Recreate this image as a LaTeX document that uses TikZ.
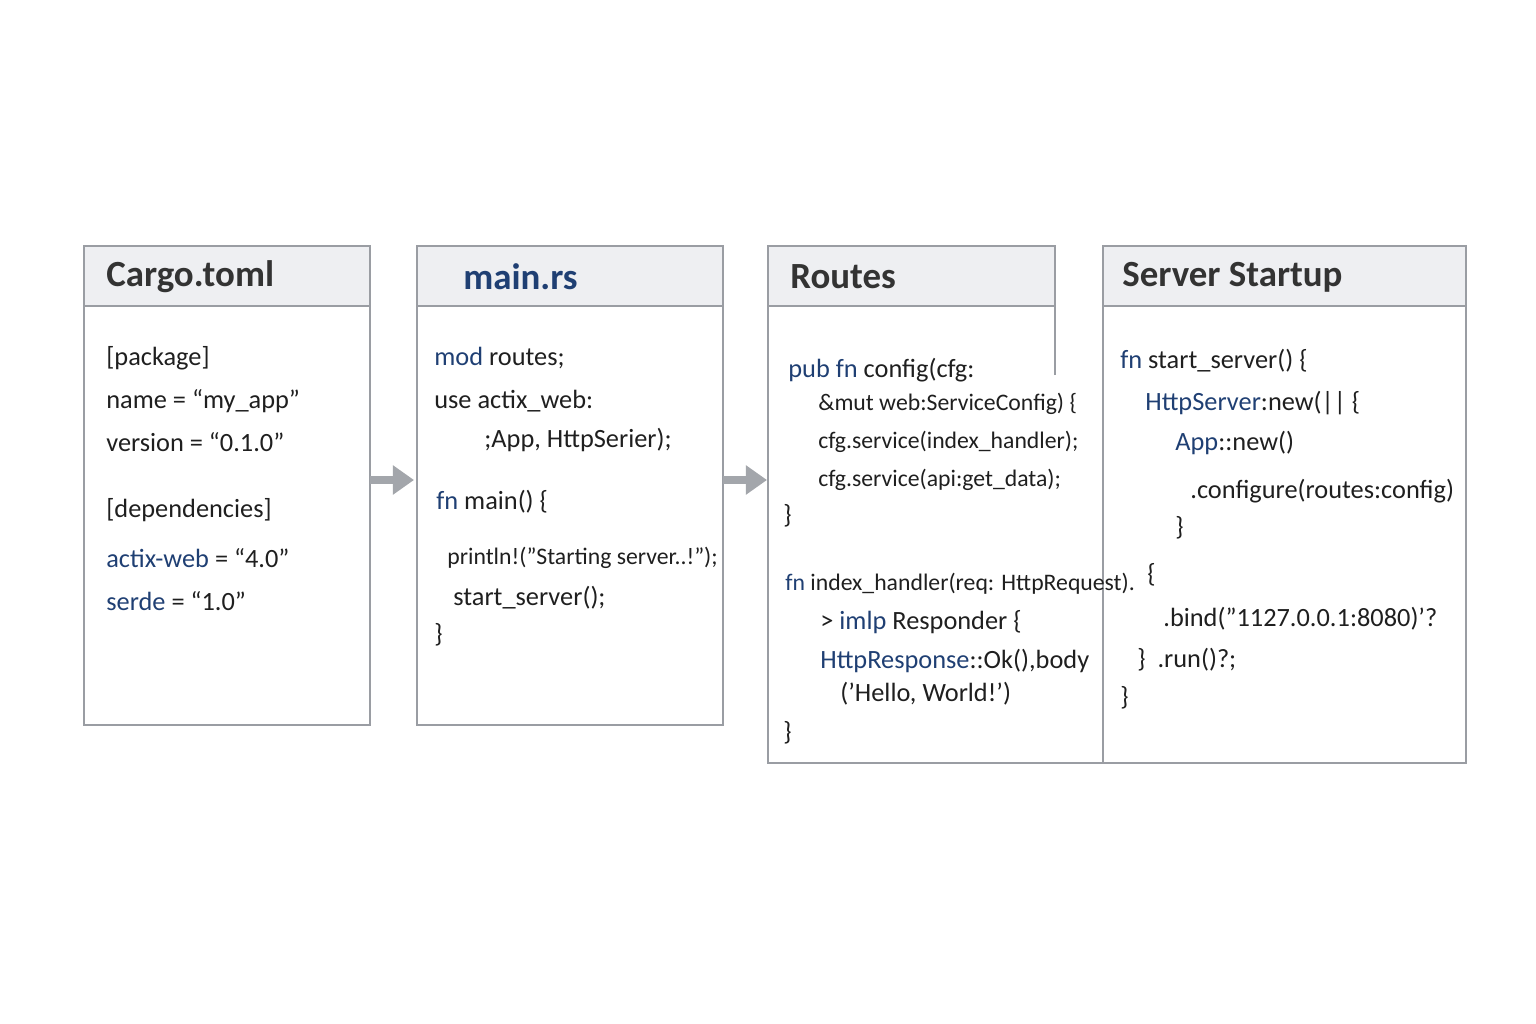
\documentclass[tikz,border=0pt]{standalone}
\usepackage{fontspec}
\setmainfont{Carlito}
\usetikzlibrary{arrows.meta}
\definecolor{kwblue}{HTML}{1F3F73}
\definecolor{boxline}{HTML}{9A9DA3}
\definecolor{headfill}{HTML}{EEEFF2}
\definecolor{arrowgray}{HTML}{A3A6AB}
\tikzset{
  code/.style={anchor=west, inner sep=0pt, font=\fontsize{15}{18}\selectfont, text=black!88},
  tight/.style={code, font=\fontsize{13.5}{16}\selectfont},
  title/.style={anchor=west, inner sep=0pt, font=\fontsize{21}{24}\selectfont\bfseries, text=black!80},
  frame/.style={draw=boxline, line width=1pt},
  flow/.style={draw=arrowgray, line width=4pt, -{Triangle[length=12pt,width=16pt]}}
}
\newcommand{\kw}[1]{\textcolor{kwblue}{#1}}
\begin{document}
\begin{tikzpicture}[x=0.02cm, y=-0.02cm]
  \useasboundingbox (0,0) rectangle (1536,1024);
  % Boxes
  \foreach \xa/\xb/\yb in {84/370/725, 417/723/725, 1103/1466/763} {
    \fill[headfill] (\xa,246) rectangle (\xb,306);
    \draw[frame] (\xa,246) rectangle (\xb,\yb);
    \draw[frame] (\xa,306) -- (\xb,306);
  }
  \fill[headfill] (768,246) rectangle (1055,306);
  \draw[frame] (1055,375) -- (1055,246) -- (768,246) -- (768,763) -- (1103,763);
  \draw[frame] (768,306) -- (1055,306);

  % Arrows
  \coordinate (a1s) at (370,480); \coordinate (a1e) at (414,480);
  \coordinate (a2s) at (723,480); \coordinate (a2e) at (767,480);
  \draw[flow] (a1s) -- (a1e);
  \draw[flow] (a2s) -- (a2e);

  % Cargo.toml
  \node[title] (cargo) at (106,277) {Cargo.toml};
  \node[code] (c1) at (106,358) {[package]};
  \node[code] (c2) at (106,401) {name = “my\_app”};
  \node[code] (c3) at (106,442) {version = “0.1.0”};
  \node[code] (c4) at (106,510) {[dependencies]};
  \node[code] (c5) at (106,558) {\kw{actix-web} = “4.0”};
  \node[code] (c6) at (106,601) {\kw{serde} = “1.0”};

  % main.rs
  \node[title, text=kwblue] (mainrs) at (463,277) {main.rs};
  \node[code] (m1) at (434,358) {\kw{mod} routes;};
  \node[code] (m2) at (434,401) {use actix\_web:};
  \node[code] (m3) at (484,440) {;App, HttpSerier);};
  \node[code] (m4) at (436,502) {\kw{fn} main() \{};
  \node[tight] (m5) at (447,558) {println!("Starting server..!");};
  \node[code] (m6) at (453,598) {start\_server();};
  \node[code] (m7) at (434,635) {\}};

  % Routes
  \node[title] (routes) at (790,277) {Routes};
  \node[code] (r1) at (788,370) {\kw{pub fn} config(cfg:};
  \node[tight] (r2) at (818,404) {\&mut web:ServiceConfig) \{};
  \node[tight] (r3) at (818,442) {cfg.service(index\_handler);};
  \node[tight] (r4) at (818,480) {cfg.service(api:get\_data);};
  \node[code] (r5) at (783,516) {\}};
  \node[tight] (r6) at (785,584) {\kw{fn} index\_handler(req: HttpRequest).};
  \node[code] (r7) at (820,622) {> \kw{imlp} Responder \{};
  \node[code] (r8) at (820,661) {\kw{HttpResponse}::Ok(),body};
  \node[code] (r9) at (840,694) {('Hello, World!')};
  \node[code] (r10) at (783,733) {\}};

  % Server Startup
  \node[title] (server) at (1122,277) {Server Startup};
  \node[code] (s1) at (1120,361) {\kw{fn} start\_server() \{};
  \node[code] (s2) at (1145,403) {\kw{HttpServer}:new(|| \{};
  \node[code] (s3) at (1175,443) {\kw{App}::new()};
  \node[code] (s4) at (1190,491) {.configure(routes:config)};
  \node[code] (s5) at (1175,528) {\}};
  \node[code] (s6) at (1147,575) {\{};
  \node[code] (s7) at (1163,619) {.bind("1127.0.0.1:8080)'?};
  \node[code] (s8) at (1137,660) {\}\ \ .run()?;};
  \node[code] (s9) at (1120,698) {\}};
\end{tikzpicture}
\end{document}
